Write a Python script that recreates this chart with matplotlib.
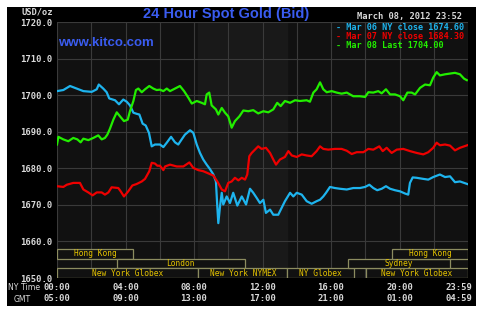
import matplotlib
matplotlib.use('Agg')
import matplotlib.pyplot as plt
from matplotlib.patches import Rectangle

# NY time in hours since midnight, price in USD/oz
mar06_hours = [0.00, 0.37, 0.76, 1.15, 1.54, 2.03, 2.32, 2.44, 2.70, 2.90, 3.05, 3.39, 3.62, 3.87,
               4.07, 4.26, 4.46, 4.65, 4.81, 5.00, 5.18, 5.37, 5.53, 5.72, 6.01, 6.21, 6.41, 6.66,
               6.89, 7.08, 7.28, 7.47, 7.77, 7.96, 8.16, 8.35, 8.54, 8.74, 8.93, 9.13, 9.28, 9.36,
               9.42, 9.52, 9.62, 9.71, 9.91, 10.10, 10.29, 10.53, 10.79, 11.04, 11.27, 11.46, 11.66,
               11.85, 12.05, 12.20, 12.44, 12.63, 12.92, 13.12, 13.31, 13.61, 13.80, 14.00, 14.29,
               14.58, 14.87, 15.16, 15.36, 15.55, 15.71, 15.94, 16.23, 16.53, 16.92, 17.30, 17.69,
               17.99, 18.24, 18.47, 18.70, 18.96, 19.21, 19.45, 19.74, 20.03, 20.32, 20.51, 20.61,
               20.77, 21.00, 21.39, 21.68, 21.97, 22.36, 22.66, 22.95, 23.24, 23.53, 23.96]
mar06_price = [1701.1, 1701.4, 1702.5, 1701.8, 1701.1, 1700.9, 1701.6, 1702.9, 1701.8, 1700.8, 1699.1,
               1698.6, 1697.5, 1698.8, 1698.2, 1697.2, 1695.2, 1694.9, 1694.7, 1692.2, 1691.7, 1689.7,
               1686.0, 1686.5, 1686.5, 1685.8, 1687.0, 1688.6, 1687.1, 1686.5, 1687.9, 1689.2, 1690.4,
               1689.7, 1686.5, 1684.2, 1682.4, 1681.0, 1679.8, 1678.3, 1676.4, 1669.6, 1665.0, 1669.6,
               1673.3, 1670.1, 1672.3, 1670.5, 1673.3, 1669.8, 1672.3, 1670.1, 1674.4, 1673.3, 1671.9,
               1670.5, 1671.4, 1667.8, 1668.7, 1667.3, 1667.3, 1669.2, 1671.0, 1673.3, 1672.3, 1673.3,
               1672.8, 1671.0, 1670.3, 1671.0, 1671.4, 1672.3, 1673.3, 1674.9, 1674.6, 1674.4, 1674.2,
               1674.6, 1674.6, 1674.9, 1675.5, 1674.6, 1674.0, 1674.4, 1675.1, 1674.4, 1674.0, 1673.7,
               1673.1, 1672.8, 1676.0, 1677.5, 1677.4, 1677.1, 1676.9, 1677.6, 1678.3, 1677.6, 1677.8,
               1676.2, 1676.4, 1675.7]

mar07_hours = [0.00, 0.37, 0.57, 0.95, 1.34, 1.54, 1.83, 2.08, 2.32, 2.61, 2.80, 3.00, 3.19, 3.58,
               3.72, 3.91, 4.16, 4.40, 4.65, 4.95, 5.14, 5.39, 5.53, 5.72, 5.86, 6.01, 6.21, 6.31,
               6.60, 6.99, 7.38, 7.73, 7.96, 8.25, 8.54, 8.84, 9.13, 9.36, 9.62, 9.81, 10.00, 10.20,
               10.39, 10.59, 10.79, 10.98, 11.11, 11.23, 11.37, 11.56, 11.75, 11.95, 12.20, 12.44,
               12.63, 12.79, 13.02, 13.31, 13.51, 13.71, 14.00, 14.29, 14.58, 14.87, 15.16, 15.36,
               15.55, 15.84, 16.23, 16.62, 16.92, 17.21, 17.50, 17.89, 18.18, 18.47, 18.82, 19.02,
               19.25, 19.54, 19.84, 20.22, 20.61, 21.00, 21.39, 21.68, 21.97, 22.17, 22.36, 22.66,
               22.95, 23.24, 23.53, 23.96]
mar07_price = [1675.1, 1674.9, 1675.5, 1676.0, 1676.0, 1674.2, 1673.4, 1672.6, 1673.4, 1673.4, 1672.8,
               1673.4, 1674.8, 1674.6, 1673.7, 1672.3, 1673.7, 1675.3, 1675.7, 1676.4, 1677.1, 1679.2,
               1681.5, 1681.3, 1680.7, 1680.7, 1679.5, 1680.5, 1681.0, 1680.5, 1680.5, 1681.6, 1680.1,
               1679.5, 1679.2, 1678.6, 1678.0, 1676.4, 1674.2, 1673.7, 1676.0, 1676.4, 1677.4, 1676.7,
               1677.4, 1676.9, 1678.3, 1683.3, 1684.2, 1685.1, 1686.0, 1685.3, 1685.6, 1684.2, 1682.4,
               1681.0, 1682.4, 1683.1, 1684.7, 1683.5, 1683.1, 1683.8, 1683.5, 1683.3, 1684.7, 1686.0,
               1685.3, 1685.1, 1685.3, 1685.3, 1684.8, 1683.9, 1684.4, 1684.4, 1685.3, 1685.1, 1686.0,
               1684.7, 1685.6, 1684.2, 1685.1, 1685.3, 1684.7, 1684.2, 1683.8, 1684.4, 1685.6, 1687.0,
               1686.3, 1686.5, 1686.2, 1684.9, 1685.6, 1686.3]

mar08_hours = [0.00, 0.08, 0.37, 0.66, 0.95, 1.19, 1.38, 1.54, 1.83, 2.12, 2.41, 2.61, 2.80, 2.94,
               3.09, 3.29, 3.49, 3.68, 3.91, 4.13, 4.26, 4.46, 4.61, 4.75, 4.95, 5.14, 5.39, 5.62,
               5.82, 6.01, 6.21, 6.41, 6.60, 6.89, 7.18, 7.42, 7.67, 7.87, 8.16, 8.45, 8.64, 8.74,
               8.89, 9.03, 9.28, 9.42, 9.62, 9.81, 10.00, 10.20, 10.39, 10.65, 10.88, 11.17, 11.46,
               11.75, 12.05, 12.34, 12.63, 12.86, 13.06, 13.31, 13.61, 13.90, 14.19, 14.58, 14.77,
               14.97, 15.16, 15.36, 15.55, 15.75, 16.04, 16.33, 16.62, 16.92, 17.30, 17.69, 17.99,
               18.18, 18.47, 18.76, 18.96, 19.21, 19.45, 19.74, 20.03, 20.22, 20.46, 20.71, 20.91,
               21.20, 21.49, 21.78, 21.97, 22.17, 22.36, 22.66, 22.95, 23.24, 23.53, 23.77, 23.93]
mar08_price = [1686.5, 1688.6, 1687.9, 1687.4, 1688.3, 1687.9, 1687.1, 1688.1, 1687.7, 1688.3, 1689.0,
               1687.9, 1688.3, 1689.2, 1690.8, 1693.3, 1695.3, 1694.2, 1692.9, 1693.3, 1695.6, 1698.4,
               1701.4, 1701.8, 1700.8, 1701.6, 1702.5, 1701.8, 1701.4, 1701.5, 1701.1, 1701.8, 1701.1,
               1701.8, 1702.5, 1701.1, 1699.3, 1697.7, 1698.4, 1697.9, 1697.5, 1700.2, 1700.7, 1697.2,
               1696.1, 1694.7, 1696.5, 1695.2, 1694.2, 1691.1, 1692.9, 1694.2, 1695.8, 1695.6, 1695.9,
               1695.0, 1695.6, 1695.3, 1696.1, 1697.9, 1697.0, 1698.4, 1697.9, 1698.6, 1698.4, 1698.6,
               1698.2, 1700.7, 1701.6, 1703.5, 1701.6, 1700.8, 1701.1, 1700.7, 1700.4, 1700.7, 1699.7,
               1699.7, 1699.5, 1700.8, 1700.7, 1701.1, 1700.5, 1701.6, 1700.2, 1700.2, 1699.7, 1698.6,
               1700.7, 1700.7, 1700.2, 1702.0, 1702.9, 1702.7, 1704.8, 1706.3, 1705.4, 1705.7, 1705.9,
               1706.1, 1705.7, 1704.5, 1704.1]

series_labels = ['Mar 06 NY close 1674.60', 'Mar 07 NY close 1684.30', 'Mar 08 Last 1704.00']
series_colors = ['#1eb4ee', '#ee0000', '#22ee00']

y_ticks = [1650, 1660, 1670, 1680, 1690, 1700, 1710, 1720]
x_ticks = [0, 4, 8, 12, 16, 20, 23.5]
ny_labels = ['00:00', '04:00', '08:00', '12:00', '16:00', '20:00', '23:59']
gmt_labels = ['05:00', '09:00', '13:00', '17:00', '21:00', '01:00', '04:59']

# market sessions: name, start hour, end hour, row (0 = bottom)
session_names = ['Hong Kong', 'London', 'New York Globex', 'New York NYMEX', 'NY Globex',
                 'New York Globex', 'Sydney', 'Hong Kong']
session_start = [0, 3.5, 0, 8.25, 13.45, 18.05, 17.0, 19.55]
session_end = [4.45, 10.95, 8.25, 13.45, 17.35, 24, 22.95, 24]
session_row = [2, 1, 0, 0, 0, 0, 1, 2]

mono = 'DejaVu Sans Mono'
fg = '#d8d8d8'

fig = plt.figure(figsize=(4.83, 3.12), dpi=100, facecolor='white')
fig.patches.append(Rectangle((7 / 483, 6 / 312), 469 / 483, 299 / 312, transform=fig.transFigure,
                             facecolor='black', edgecolor='none', zorder=-10))

ax = fig.add_axes([57 / 483, 34 / 312, 411 / 483, 256 / 312])
ax.set_facecolor('#111111')
ax.axvspan(8.25, 13.45, color='#191919', zorder=0)

for hrs, prc, c in zip([mar06_hours, mar07_hours, mar08_hours],
                       [mar06_price, mar07_price, mar08_price], series_colors):
    ax.plot(hrs, prc, color=c, lw=1.6, solid_joinstyle='round', zorder=3)

ax.set_xlim(0, 24)
ax.set_ylim(1650, 1720)
ax.set_xticks(range(0, 25, 2))
ax.set_yticks(y_ticks)
ax.set_yticklabels([f'{v:.1f}' for v in y_ticks], family=mono, fontsize=6.4, color=fg,
                   fontweight='bold')
ax.set_xticklabels([])
ax.tick_params(length=0, pad=3)
ax.grid(True, color='#3a3a3a', lw=0.8, zorder=1)
for s in ax.spines.values():
    s.set_visible(False)

# session boxes
row_h = 2.63
for name, s0, s1, r in zip(session_names, session_start, session_end, session_row):
    y0 = 1650 + r * row_h
    ax.add_patch(Rectangle((s0, y0), s1 - s0, row_h, facecolor='#111111', edgecolor='#8c8c60',
                           lw=0.9, zorder=4))
    ax.text((s0 + s1) / 2, y0 + row_h / 2, name, color='#e6c400', family=mono, fontsize=5.7,
            ha='center', va='center', zorder=5)

# time axis labels
for xt, ny, gmt in zip(x_ticks, ny_labels, gmt_labels):
    ax.text(xt, -0.037, ny, transform=ax.get_xaxis_transform(), ha='center', va='center',
            family=mono, fontsize=6.4, color=fg, fontweight='bold')
    ax.text(xt, -0.082, gmt, transform=ax.get_xaxis_transform(), ha='center', va='center',
            family=mono, fontsize=6.4, color=fg, fontweight='bold')
fig.text(24 / 483, 1 - 288 / 312, 'NY Time', ha='center', va='center', fontsize=5.6, color=fg)
fig.text(22 / 483, 1 - 299.5 / 312, 'GMT', ha='center', va='center', fontsize=5.6, color=fg)

fig.text(37 / 483, 1 - 12 / 312, 'USD/oz', ha='center', va='center', family=mono, fontsize=6.3,
         color=fg, fontweight='bold')
fig.text(226 / 483, 1 - 14 / 312, '24 Hour Spot Gold (Bid)', ha='center', va='center',
         family='Liberation Sans', fontsize=10.5, fontweight='bold', color='#3a5cf0')
fig.text(58 / 483, 1 - 43 / 312, 'www.kitco.com', ha='left', va='center',
         family='Liberation Sans', fontsize=9.5, fontweight='bold', color='#3a5cf0')
fig.text(462 / 483, 1 - 16 / 312, 'March 08, 2012 23:52', ha='right', va='center', family=mono,
         fontsize=6.3, color=fg, fontweight='bold')
for i, (lab, c) in enumerate(zip(series_labels, series_colors)):
    fig.text(336 / 483, 1 - (27 + 9.3 * i) / 312, '- ' + lab, ha='left', va='center', family=mono,
             fontsize=6.1, color=c, fontweight='bold')

fig.savefig('out.png', dpi=100, facecolor='white')
